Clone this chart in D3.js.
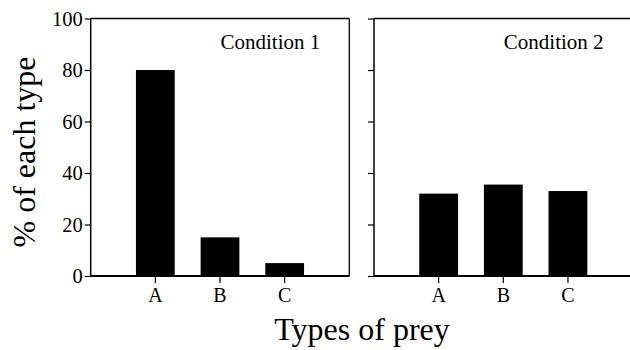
<!DOCTYPE html>
<html><head><meta charset="utf-8">
<script src="https://cdn.jsdelivr.net/npm/d3@7"></script>
<style>html,body{margin:0;padding:0;background:#fff;}</style>
</head><body>
<svg id="chart" width="630" height="350"></svg>
<script>
const categories = ["A", "B", "C"];
const panels = ["Condition 1", "Condition 2"];
const condition1 = [80, 15, 5];
const condition2 = [32, 35.5, 33];
const yTicks = [0, 20, 40, 60, 80, 100];
const xTitle = "Types of prey";
const yTitle = "% of each type";

const FONT = "'Liberation Serif', 'Times New Roman', Times, serif";
const seriesList = [condition1, condition2];
const svg = d3.select("#chart");
svg.append("rect").attr("width", 630).attr("height", 350).attr("fill", "#fff");

const plotTop = 18.5, plotBottom = 276;
const panelW = 258.6;
const panelX = [90.7, 374];
const y = d3.scaleLinear().domain([0, 100]).range([plotBottom, plotTop]);

seriesList.forEach((vals, p) => {
  const x0 = panelX[p];
  const x = d3.scaleBand().domain(categories).range([x0, x0 + panelW]).paddingInner(0.4).paddingOuter(0.7);
  const g = svg.append("g");
  g.selectAll("rect.bar").data(vals).enter().append("rect")
    .attr("x", (d, i) => x(categories[i]))
    .attr("y", d => y(d))
    .attr("width", x.bandwidth())
    .attr("height", d => y(0) - y(d))
    .attr("fill", "#000");
  g.append("line").attr("x1", x0).attr("x2", x0 + panelW).attr("y1", plotTop).attr("y2", plotTop).attr("stroke", "#000").attr("stroke-width", 1.3);
  if (p === 0) g.append("line").attr("x1", x0 + panelW).attr("x2", x0 + panelW).attr("y1", plotTop).attr("y2", plotBottom).attr("stroke", "#000").attr("stroke-width", 1.3);
  const ya = d3.axisLeft(y).tickValues(yTicks).tickSize(6).tickPadding(2)
    .tickFormat(p === 0 ? d3.format("d") : () => "");
  const yg = g.append("g").attr("transform", `translate(${x0},0)`).call(ya);
  yg.attr("font-family", null);
  yg.select(".domain").attr("stroke-width", 1.5).attr("d", `M0,${plotTop}V${plotBottom}`);
  yg.selectAll(".tick line").attr("stroke-width", 1.2);
  yg.selectAll(".tick text").attr("font-size", 20.5).style("font-family", FONT).attr("dy", "0.33em");
  const xa = d3.axisBottom(x).tickSize(7).tickPadding(5);
  const xg = g.append("g").attr("transform", `translate(0,${plotBottom})`).call(xa);
  xg.attr("font-family", null);
  xg.select(".domain").attr("stroke-width", 1.8).attr("d", `M${x0},0H${x0 + panelW}`);
  xg.selectAll(".tick line").attr("stroke-width", 1.2);
  xg.selectAll(".tick text").attr("font-size", 20).style("font-family", FONT);
  g.append("text").attr("x", x0 + panelW * 0.695).attr("y", 49).attr("text-anchor", "middle")
    .attr("font-size", 21).style("font-family", FONT).text(panels[p]);
});

svg.append("text").attr("x", 362).attr("y", 340).attr("text-anchor", "middle").attr("font-size", 32).style("font-family", FONT).text(xTitle);
svg.append("text").attr("transform", "translate(35,152) rotate(-90)").attr("text-anchor", "middle").attr("font-size", 32).style("font-family", FONT).text(yTitle);
</script>
</body></html>
